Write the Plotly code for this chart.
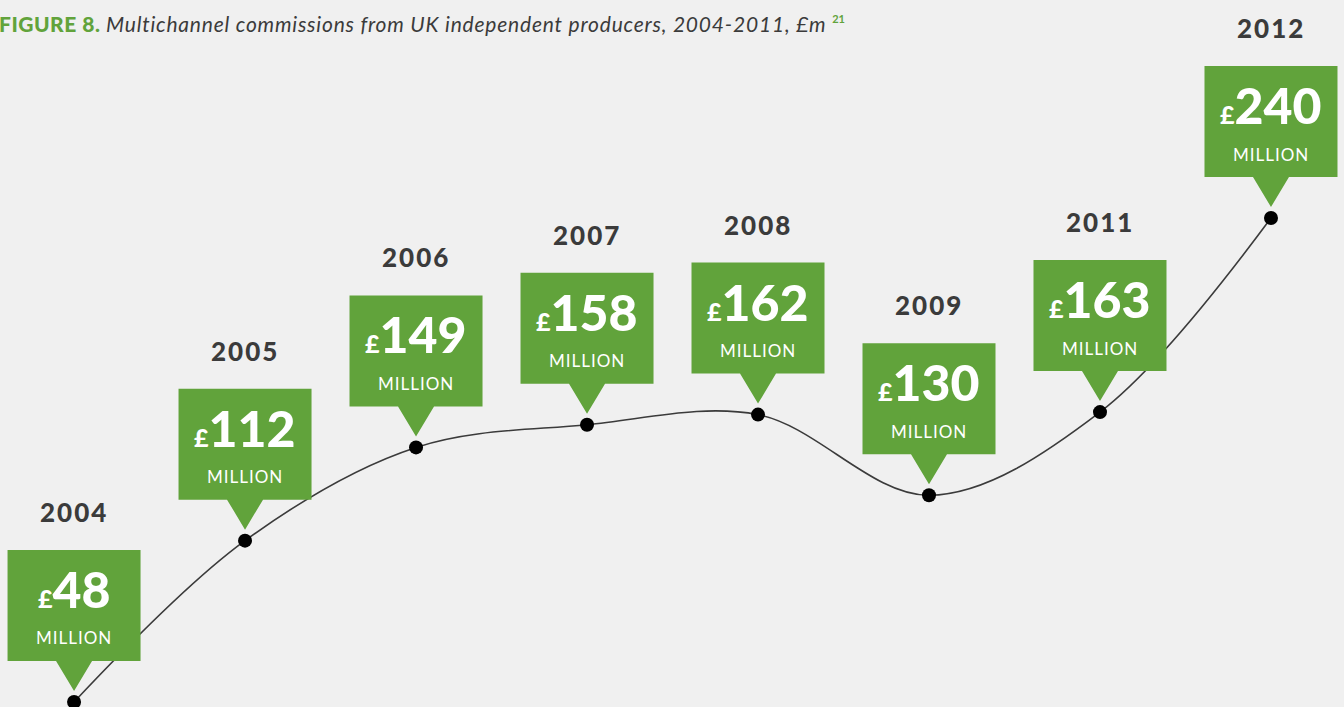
import plotly.graph_objects as go

# Multichannel commissions from UK independent producers (£m)
years = ["2004", "2005", "2006", "2007", "2008", "2009", "2011", "2012"]
values = [48, 112, 149, 158, 162, 130, 163, 240]

GREEN = "#61a33b"
DARK = "#3b3b3b"
BG = "#f0f0f0"
FONT = "Lato, 'Open Sans', sans-serif"

xpos = list(range(len(years)))

fig = go.Figure()

fig.add_trace(go.Scatter(
    x=xpos, y=values,
    mode="lines+markers",
    line=dict(color=DARK, width=1.6, shape="spline", smoothing=1.0),
    marker=dict(color="#000000", size=14),
    hoverinfo="skip",
    showlegend=False,
))

# Callout geometry (pixels, relative to each point; positive = up)
BOX_W = 133
BOX_TOP = 152
BOX_BOTTOM = 41
TIP = 11
TRI_HALF = 18

shapes = []
annotations = []
for i, (yr, v) in enumerate(zip(years, values)):
    hw = BOX_W / 2
    path = (
        f"M {-hw},{BOX_TOP} L {hw},{BOX_TOP} L {hw},{BOX_BOTTOM} "
        f"L {TRI_HALF},{BOX_BOTTOM} L 0,{TIP} L {-TRI_HALF},{BOX_BOTTOM} "
        f"L {-hw},{BOX_BOTTOM} Z"
    )
    shapes.append(dict(
        type="path", xref="x", yref="y",
        xsizemode="pixel", ysizemode="pixel",
        xanchor=i, yanchor=v,
        path=path,
        fillcolor=GREEN, line=dict(width=0),
        layer="above",
    ))
    annotations.append(dict(
        x=i, y=v, xref="x", yref="y",
        text=f"<span style='font-weight:900; letter-spacing:2px'>{yr}</span>",
        showarrow=False,
        yshift=190, xanchor="center", yanchor="middle",
        font=dict(family=FONT, size=26, color=DARK),
    ))
    annotations.append(dict(
        x=i, y=v, xref="x", yref="y",
        text=(f"<span style='font-weight:900'><span style='font-size:25px'>£</span>"
              f"{v}</span>"),
        showarrow=False,
        yshift=113, xanchor="center", yanchor="middle",
        font=dict(family=FONT, size=50, color="white"),
    ))
    annotations.append(dict(
        x=i, y=v, xref="x", yref="y",
        text="<span style='letter-spacing:1px'>MILLION</span>", showarrow=False,
        yshift=64, xanchor="center", yanchor="middle",
        font=dict(family=FONT, size=17, color="white"),
    ))

annotations.append(dict(
    x=-0.002, y=1 - 24 / 707, xref="paper", yref="paper",
    xanchor="left", yanchor="middle", showarrow=False,
    text=(
        f"<span style='color:{GREEN}; font-weight:900; letter-spacing:0.5px'>FIGURE 8. </span>"
        "<i><span style='letter-spacing:0.8px'>Multichannel commissions from UK "
        "independent producers, 2004-2011, £m </span></i>"
        f"<sup><span style='color:{GREEN}; font-size:11px'><b>21</b></span></sup>"
    ),
    font=dict(family=FONT, size=21, color=DARK),
))

fig.update_layout(
    width=1344, height=707,
    margin=dict(l=0, r=0, t=0, b=0),
    paper_bgcolor=BG, plot_bgcolor=BG,
    xaxis=dict(range=[-0.433, 7.427], visible=False,
               showgrid=False, zeroline=False),
    yaxis=dict(range=[46.0, 326.5], visible=False,
               showgrid=False, zeroline=False),
    shapes=shapes,
    annotations=annotations,
)

fig.write_html("out.html")
